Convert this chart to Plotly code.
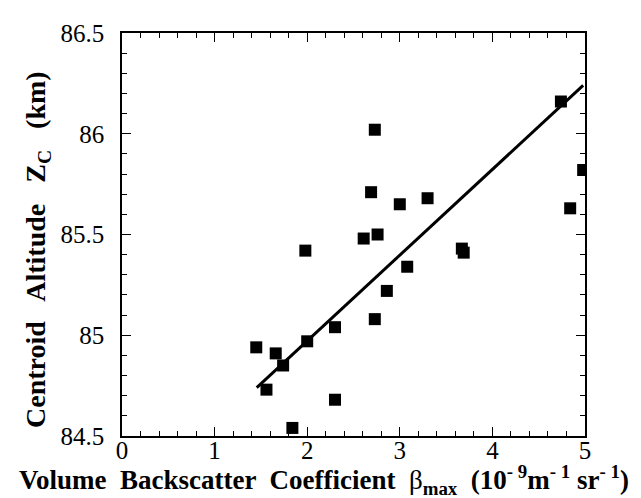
import plotly.graph_objects as go

# Data
beta_max = [1.45, 1.56, 1.66, 1.74, 1.84, 2.00, 1.98, 2.30, 2.30, 2.73, 2.86, 3.08,
            2.73, 2.69, 3.00, 3.30, 2.61, 2.76, 3.67, 3.69, 4.74, 4.98, 4.84]
centroid_alt = [84.94, 84.73, 84.91, 84.85, 84.54, 84.97, 85.42, 85.04, 84.68, 85.08, 85.22, 85.34,
                86.02, 85.71, 85.65, 85.68, 85.48, 85.50, 85.43, 85.41, 86.16, 85.82, 85.63]
fit_x = [1.455, 4.98]
fit_y = [84.74, 86.24]

x_ticks = [0, 1, 2, 3, 4, 5]
y_ticks = [84.5, 85, 85.5, 86, 86.5]
y_tick_labels = ["84.5", "85", "85.5", "86", "86.5"]

FONT = "Liberation Serif"

fig = go.Figure()
fig.add_trace(go.Scatter(x=fit_x, y=fit_y, mode="lines",
                         line=dict(color="black", width=3), showlegend=False))
fig.add_trace(go.Scatter(x=beta_max, y=centroid_alt, mode="markers",
                         marker=dict(symbol="square", size=12, color="black"),
                         showlegend=False))

axis_common = dict(
    showgrid=False, zeroline=False, showline=True, linecolor="black", linewidth=1.5,
    mirror="allticks", ticks="inside", ticklen=9, tickwidth=1.2, tickcolor="black",
    tickfont=dict(family=FONT, size=25, color="black"),
)

fig.update_xaxes(range=[0, 5], tickvals=x_ticks, ticktext=[str(v) for v in x_ticks],
                 minor=dict(dtick=0.2, ticklen=5, tickwidth=1.2, tickcolor="black", ticks="inside"),
                 ticklabelstandoff=-9,
                 **axis_common)
fig.update_yaxes(range=[84.5, 86.5], tickvals=y_ticks, ticktext=y_tick_labels,
                 minor=dict(dtick=0.1, ticklen=5, tickwidth=1.2, tickcolor="black", ticks="inside"),
                 ticklabelstandoff=11,
                 **axis_common)

fig.add_annotation(text="<b>Volume  Backscatter  Coefficient  </b>β<b><sub>max</sub>  (10<sup>- 9</sup>m<sup>- 1</sup> sr<sup>- 1</sup>)</b>",
                   xref="paper", yref="paper", x=-0.226, y=-0.108, xanchor="left", yanchor="middle",
                   showarrow=False, font=dict(family=FONT, size=27, color="black"))
fig.add_annotation(text="<b>Centroid   Altitude   Z<sub>C</sub>   (km)</b>",
                   xref="paper", yref="paper", x=-0.181, y=0.462, xanchor="center", yanchor="middle",
                   textangle=-90, showarrow=False, font=dict(family=FONT, size=28, color="black"))

fig.update_layout(width=641, height=498, margin=dict(l=114, r=64, t=25, b=70),
                  paper_bgcolor="white", plot_bgcolor="white",
                  font=dict(family=FONT, color="black"))

fig.write_html("out.html")
